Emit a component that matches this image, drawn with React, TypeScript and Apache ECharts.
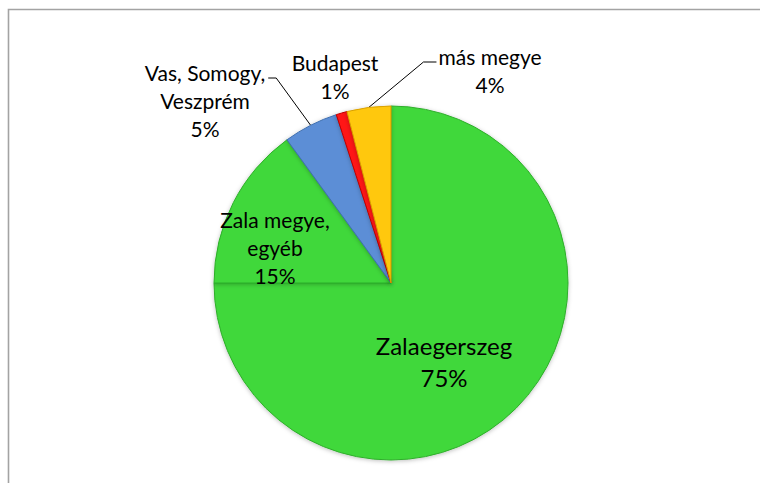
import React, { useEffect, useRef } from "react";
import * as echarts from "echarts";

const categories = ["Zalaegerszeg", "Zala megye,\negyéb", "Vas, Somogy,\nVeszprém", "Budapest", "más megye"];
const values = [75, 15, 5, 1, 4];
const colors = ["#3fd83a", "#3fd83a", "#5b8ed6", "#ff1414", "#ffc80a"];
const borders = ["#2fae2b", "#2fae2b", "#3f6fb0", "#c00000", "#d9a000"];

// layout-only: label block centres (px)
const labelCenters: [number, number][] = [
  [444, 361],
  [275, 247],
  [205, 100],
  [335, 76],
  [490, 70],
];
const hasLeader = [false, false, true, false, true];

export default function App() {
  const ref = useRef<HTMLDivElement>(null);
  useEffect(() => {
    document.body.style.margin = "0";
    const chart = echarts.init(ref.current!, undefined, { renderer: "svg" });
    const font = "Lato, 'Open Sans', sans-serif";
    chart.setOption({
      animation: false,
      backgroundColor: "#ffffff",
      graphic: [
        {
          type: "rect",
          shape: { x: 8.5, y: 9.5, width: 800, height: 520 },
          style: { fill: "none", stroke: "#a3a3a3", lineWidth: 1.6 },
          silent: true,
        },
      ],
      series: [
        {
          type: "pie",
          center: [391, 283],
          radius: 177,
          startAngle: 90,
          clockwise: true,
          avoidLabelOverlap: false,
          data: categories.map((c, i) => ({
            name: c,
            value: values[i],
            itemStyle: {
              color: colors[i],
              borderColor: borders[i],
              borderWidth: 1,
              shadowBlur: 4,
              shadowColor: "rgba(0,0,0,0.25)",
              shadowOffsetY: 1,
            },
            label: {
              fontSize: i === 0 ? 24 : 21,
              lineHeight: i === 0 ? 32 : 28,
            },
            labelLine: { show: hasLeader[i] },
          })),
          label: {
            show: true,
            position: "outside",
            color: "#000",
            fontFamily: font,
            formatter: (p: any) => `${p.name}\n${p.value}%`,
          },
          labelLine: {
            show: true,
            length: 10,
            length2: 10,
            lineStyle: { color: "#000", width: 1 },
          },
          labelLayout: (p: any) => {
            const i = p.dataIndex;
            const [cx, cy] = labelCenters[i];
            const w = p.labelRect.width;
            const h = p.labelRect.height;
            const res: any = { x: cx, y: cy, align: "center", verticalAlign: "middle" };
            if (hasLeader[i] && p.labelLinePoints) {
              const p0 = p.labelLinePoints[0];
              const top = cy - h / 2;
              const ly = top + 28 / 2 + 6;
              if (p0[0] > cx) {
                const ex = cx + w / 2 + 3;
                res.labelLinePoints = [p0, [ex + 8, ly], [ex, ly]];
              } else {
                const ex = cx - w / 2 - 2;
                res.labelLinePoints = [p0, [ex - 13, ly], [ex, ly]];
              }
            }
            return res;
          },
        },
      ],
    });
    return () => chart.dispose();
  }, []);
  return <div ref={ref} style={{ width: 760, height: 483 }} />;
}
